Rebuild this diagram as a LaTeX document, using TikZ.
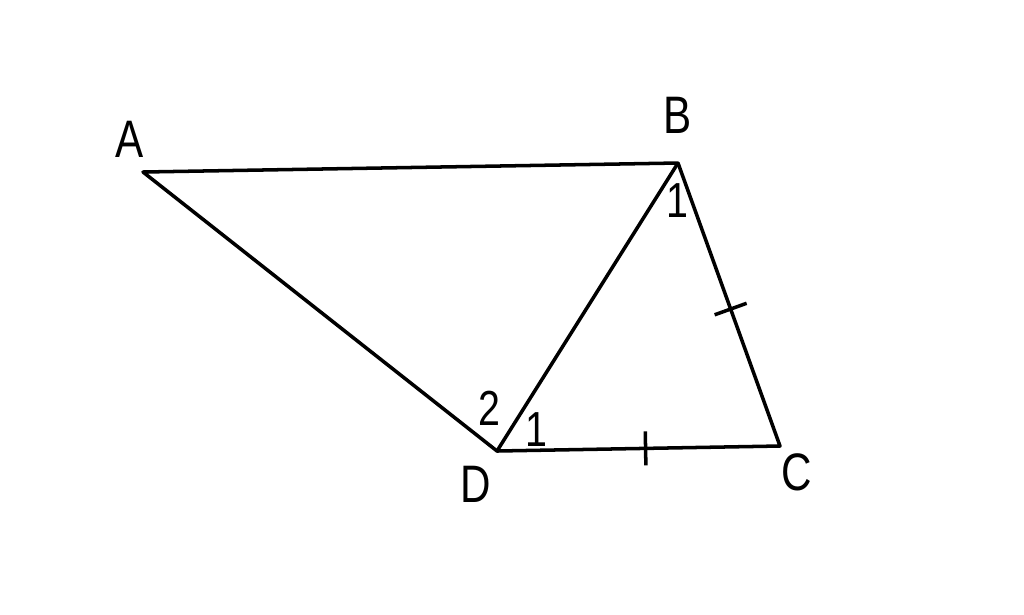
\documentclass[tikz,border=0pt]{standalone}
\usepackage{fontspec}
\setmainfont[FakeStretch=0.8]{Liberation Sans}
\usetikzlibrary{calc,positioning}

\begin{document}
\begin{tikzpicture}[x=0.01cm, y=-0.01cm, line width=1pt, line join=round,
  lbl/.style={font=\fontsize{15}{17}\selectfont, inner sep=0pt},
  num/.style={font=\fontsize{14}{16}\selectfont, inner sep=0pt},
  tick/.style={line width=1pt}]
\useasboundingbox (0,0) rectangle (1024,614);

\coordinate (A) at (143,172);
\coordinate (B) at (678,163);
\coordinate (C) at (780,446);
\coordinate (D) at (497,451);

\node (lab_a) at (130,139) [lbl] {A};
\node (lab_b) at (678,115) [lbl] {B};
\node (lab_c) at (797,472) [lbl] {C};
\node (lab_d) at (476,484) [lbl] {D};

\node (ang_b1) at (677,201) [num] {1};
\node (ang_d1) at (536,430) [num] {1};
\node (ang_d2) at (489,408) [num] {2};

\draw (A) -- (B) -- (C) -- (D) -- cycle;
\draw (D) -- (B);

% equal marks
\coordinate (tick_bc) at ($(B)!0.516!(C)$);
\coordinate (tick_dc) at ($(D)!0.525!(C)$);
\draw [tick] ($(tick_bc)!0.17cm!90:(C)$) -- ($(tick_bc)!0.17cm!-90:(C)$);
\draw [tick] ($(tick_dc)!0.17cm!90:(C)$) -- ($(tick_dc)!0.17cm!-90:(C)$);

\end{tikzpicture}
\end{document}
